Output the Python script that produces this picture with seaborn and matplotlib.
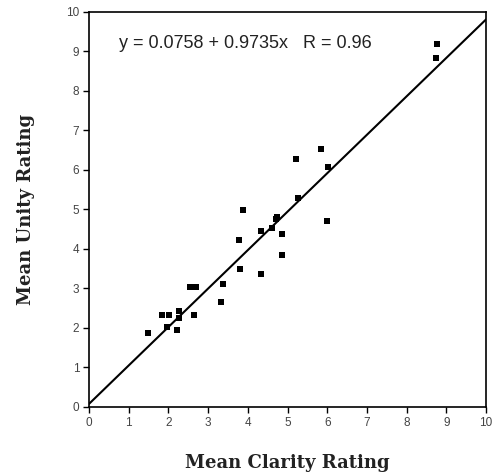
import numpy as np
import pandas as pd
import matplotlib
matplotlib.use("Agg")
import matplotlib.pyplot as plt
import seaborn as sns

clarity = [1.48, 1.84, 2.02, 1.97, 2.22, 2.27, 2.27, 2.65, 2.55, 2.70,
           3.32, 3.37, 3.80, 3.77, 3.87, 4.32, 4.32, 4.62, 4.71, 4.74,
           4.85, 4.85, 5.26, 5.21, 5.84, 6.03, 6.00, 8.77, 8.73]
unity = [1.88, 2.33, 2.33, 2.02, 1.95, 2.44, 2.26, 2.33, 3.03, 3.03,
         2.66, 3.11, 3.49, 4.23, 4.99, 3.37, 4.45, 4.52, 4.75, 4.82,
         3.85, 4.38, 5.28, 6.27, 6.52, 6.08, 4.72, 9.19, 8.83]
intercept = 0.0758
slope = 0.9735
r_value = 0.96
ticks = list(range(0, 11))

df = pd.DataFrame({"clarity": clarity, "unity": unity})
fit_x = [0, 10]
fit = pd.DataFrame({"x": fit_x, "y": [intercept + slope * v for v in fit_x]})

sns.set_style("white")
plt.rcParams["font.family"] = ["Liberation Sans", "DejaVu Sans"]

fig = plt.figure(figsize=(4.94, 4.76), dpi=100)
ax = fig.add_axes([0.180, 0.145, 0.804, 0.830])

sns.lineplot(data=fit, x="x", y="y", ax=ax, color="black", linewidth=1.5)
sns.scatterplot(data=df, x="clarity", y="unity", ax=ax, marker="s",
                color="black", s=13, edgecolor="black", linewidth=0)

ax.set_xlim(0, 10)
ax.set_ylim(0, 10)
ax.set_xticks(ticks)
ax.set_yticks(ticks)
ax.tick_params(axis="both", direction="out", length=4, width=1,
               labelsize=8.5, color="black", labelcolor="#444444", pad=3,
               bottom=True, left=True)
for sp in ax.spines.values():
    sp.set_color("black")
    sp.set_linewidth(1.2)

ax.set_xlabel("Mean Clarity Rating", fontfamily="DejaVu Serif",
              fontweight="bold", fontsize=13, color="#222222", labelpad=18)
ax.set_ylabel("Mean Unity Rating", fontfamily="DejaVu Serif",
              fontweight="bold", fontsize=13, color="#222222", labelpad=22)

ax.text(0.75, 9.2, f"y = {intercept} + {slope}x   R = {r_value}",
        fontsize=13, color="#222222", va="center", ha="left")

fig.savefig("out.png", dpi=100)
